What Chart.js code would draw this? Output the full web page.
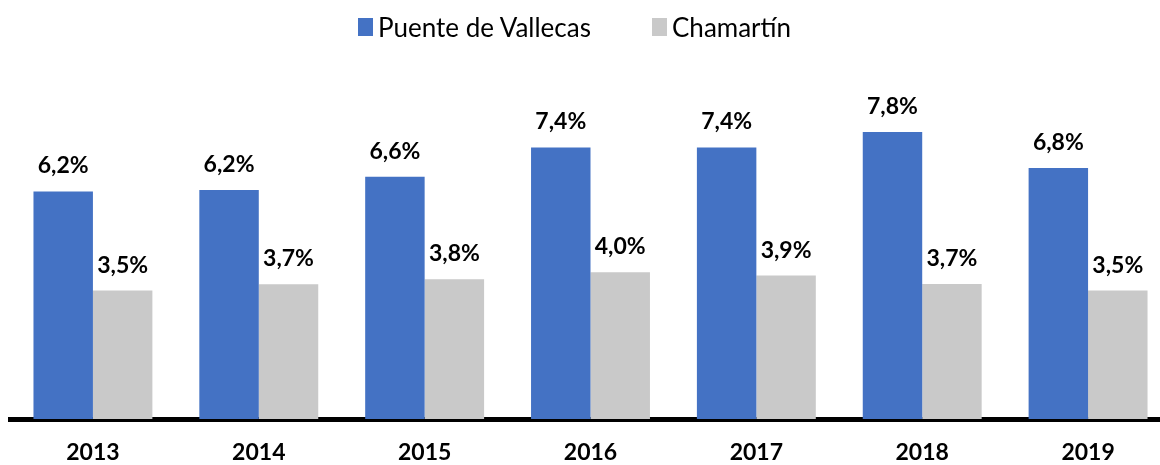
<!DOCTYPE html>
<html>
<head>
<meta charset="utf-8">
<script src="https://cdn.jsdelivr.net/npm/chart.js@4"></script>
<style>
    html, body { margin: 0; padding: 0; background: #fff; overflow: hidden; }
    .wrap { position: relative; width: 1172px; height: 465px; }
    .legend { position: absolute; top: 0; left: 0; width: 1160px; height: 50px; font-family: Lato, sans-serif; font-size: 26px; color: #000; }
    .legend .item { position: absolute; top: 11px; display: flex; align-items: center; white-space: nowrap; }
    .legend .box { width: 15px; height: 18px; margin-right: 5px; }
</style>
</head>
<body>
<div class="wrap">
    <canvas id="chart"></canvas>
    <div class="legend" id="legend"></div>
</div>
<script>
const years = ['2013', '2014', '2015', '2016', '2017', '2018', '2019'];
const seriesNames = ['Puente de Vallecas', 'Chamartín'];
const vallecas = [6.20, 6.24, 6.60, 7.40, 7.40, 7.82, 6.84];
const chamartin = [3.50, 3.67, 3.81, 4.00, 3.91, 3.68, 3.50];
const colors = ['#4472C4', '#C9C9C9'];
const legendLeft = [358, 652];

// legend (html, placed like the original)
const legendEl = document.getElementById('legend');
seriesNames.forEach((name, i) => {
    legendEl.innerHTML += `<div class="item" style="left:${legendLeft[i]}px">
        <span class="box" style="background:${colors[i]}"></span>${name}</div>`;
});

// etiquetas encima de cada barra
const barLabels = {
    id: 'barLabels',
    afterDatasetsDraw(chart) {
        const ctx = chart.ctx;
        ctx.save();
        ctx.font = 'bold 23px Lato, sans-serif';
        ctx.fillStyle = '#000';
        ctx.textAlign = 'center';
        ctx.textBaseline = 'alphabetic';
        chart.data.datasets.forEach((ds, di) => {
            chart.getDatasetMeta(di).data.forEach((bar, i) => {
                const txt = ds.data[i].toFixed(1).replace('.', ',') + '%';
                ctx.fillText(txt, bar.x, bar.y - 18);
            });
        });
        ctx.restore();
    }
};

new Chart(document.getElementById('chart'), {
    type: 'bar',
    data: {
        labels: years,
        datasets: [
            { label: seriesNames[0], data: vallecas, backgroundColor: colors[0] },
            { label: seriesNames[1], data: chamartin, backgroundColor: colors[1] }
        ]
    },
    options: {
        responsive: true,
        maintainAspectRatio: false,
        animation: false,
        layout: { padding: { top: 52, left: 10, right: 1, bottom: 0 } },
        datasets: { bar: { categoryPercentage: 0.717, barPercentage: 1 } },
        plugins: {
            legend: { display: false },
            tooltip: { enabled: false }
        },
        scales: {
            x: {
                z: 1,
                grid: { display: false, drawTicks: false },
                border: { display: true, color: '#000', width: 5 },
                ticks: { color: '#000', padding: 20, font: { family: 'Lato', size: 23, weight: 'bold' } },
                afterFit(scale) { scale.height = 46; }
            },
            y: {
                display: false,
                min: 0,
                max: 10
            }
        }
    },
    plugins: [barLabels]
});
</script>
</body>
</html>
